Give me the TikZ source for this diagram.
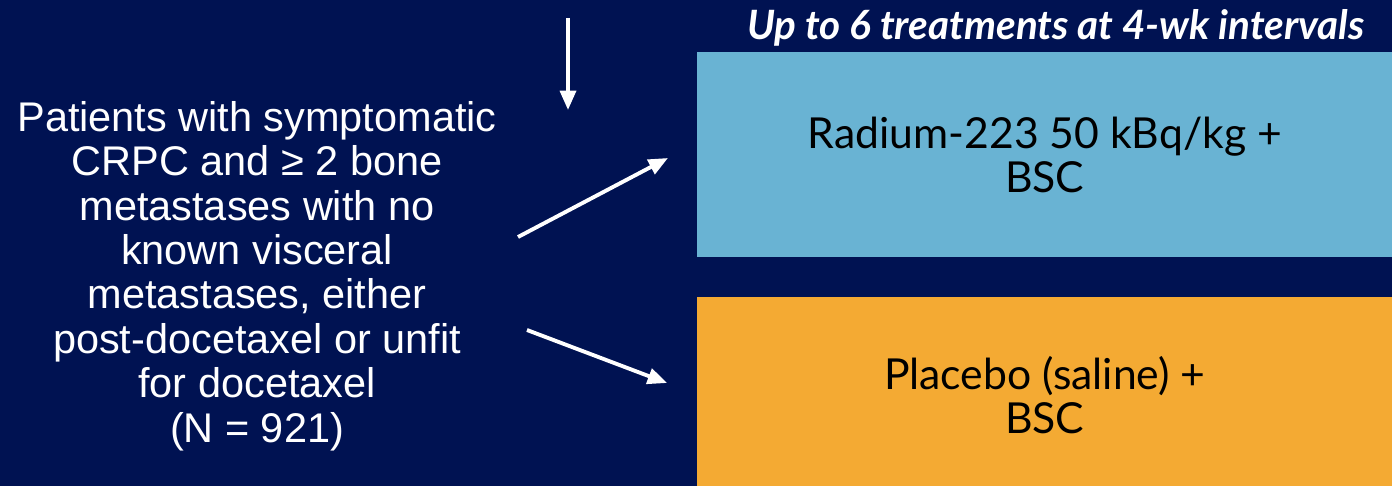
\documentclass[tikz,border=0pt]{standalone}
\usepackage{fontspec}
\setmainfont{Liberation Sans}
\newfontfamily\kassefont{Lato}
\usetikzlibrary{arrows.meta}

\definecolor{marine}{RGB}{0,18,82}
\definecolor{lysblaa}{RGB}{105,179,211}
\definecolor{oransje}{RGB}{244,170,51}

\tikzset{
	pil/.style={white, line width=2.2pt, -{Triangle[length=11pt,width=9pt]}},
	arm/.style={anchor=north west, inner sep=0pt, minimum width=13.9cm, align=center,
		font=\kassefont\fontsize{24.3}{25}\selectfont, text=black}
}

\begin{document}
\begin{tikzpicture}[x=0.02cm, y=-0.02cm]
		% Bakgrunn
		\fill[marine] (0,0) rectangle (1392,486);
		\useasboundingbox (0,0) rectangle (1392,486);

		% Pasientgruppe
		\node[white, align=center, font=\fontsize{23.6}{25.3}\selectfont] (pas) at (257,276)
			{Patients with symptomatic\\CRPC and ≥ 2 bone\\metastases with no\\known visceral\\metastases, either\\post-docetaxel or unfit\\for docetaxel\\(N = 921)};

		% De to armene
		\node[arm, fill=lysblaa, minimum height=4.1cm] (radium) at (697,52)
			{Radium-223 50 kBq/kg +\\BSC};
		\node[arm, fill=oransje, minimum height=3.9cm] (placebo) at (697,297)
			{Placebo (saline) +\\BSC};

		% Overskrift over armene
		\node[white, font=\kassefont\bfseries\itshape\fontsize{23}{25}\selectfont] (tittel) at (1056,28)
			{Up to 6 treatments at 4-wk intervals};

		% Piler
		\coordinate (topp) at (568,18);
		\coordinate (ned) at (568,110);
		\draw[pil] (topp) -- (ned);

		\coordinate (start1) at (518,237);
		\coordinate (slutt1) at (668,158);
		\draw[pil] (start1) -- (slutt1);

		\coordinate (start2) at (527,330);
		\coordinate (slutt2) at (667,383);
		\draw[pil] (start2) -- (slutt2);
	\end{tikzpicture}
\end{document}
